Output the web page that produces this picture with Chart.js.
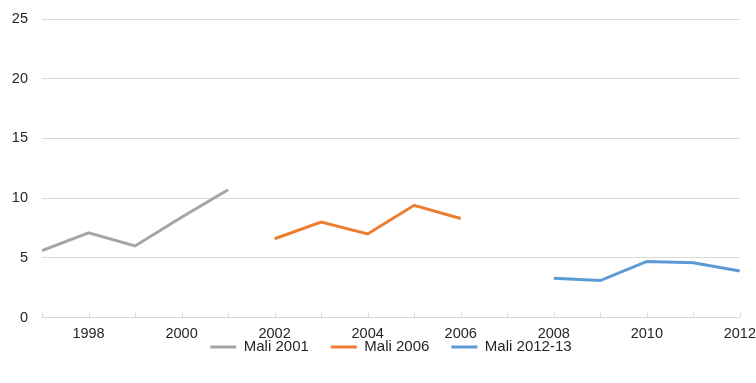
<!DOCTYPE html>
<html>
<head>
<meta charset="utf-8">
<script src="https://cdn.jsdelivr.net/npm/chart.js@4/dist/chart.umd.min.js"></script>
<style>
  html, body { margin: 0; padding: 0; background: #fff; }
  #wrap { width: 756px; height: 383px; }
</style>
</head>
<body>
<div id="wrap"><canvas id="chart"></canvas></div>
<script>
const years2001 = [1997, 1998, 1999, 2000, 2001];
const mali2001 = [5.6, 7.1, 6.0, 8.4, 10.7];
const years2006 = [2002, 2003, 2004, 2005, 2006];
const mali2006 = [6.6, 8.0, 7.0, 9.4, 8.3];
const years2013 = [2008, 2009, 2010, 2011, 2012];
const mali2013 = [3.3, 3.1, 4.7, 4.6, 3.9];
const xMin = 1997, xMax = 2012;
const yTicks = [0, 5, 10, 15, 20, 25];

const legendGap = 22;

function points(xs, ys) {
    return xs.map((x, i) => ({x: x, y: ys[i]}));
}

// small tick marks pointing up into the plot, one per year
const insideTicks = {
    id: 'insideTicks',
    afterDatasetsDraw(chart) {
        const ctx = chart.ctx;
        const xs = chart.scales.x;
        const bottom = chart.chartArea.bottom;
        ctx.save();
        ctx.strokeStyle = '#d9d9d9';
        ctx.lineWidth = 1;
        for (let yr = xMin; yr <= xMax; yr++) {
            const px = Math.round(xs.getPixelForValue(yr)) + 0.5;
            ctx.beginPath();
            ctx.moveTo(px, bottom);
            ctx.lineTo(px, bottom - 5);
            ctx.stroke();
        }
        ctx.restore();
    }
};

// legend padding is wide for item spacing; pull the legend up closer to the axis labels
const liftLegend = {
    id: 'liftLegend',
    afterLayout(chart) {
        const lg = chart.legend;
        const h = lg.height;
        lg.top = chart.chartArea.bottom;
        lg.bottom = lg.top + h;
    }
};

Chart.defaults.font.family = '"Liberation Sans", Arial, sans-serif';
Chart.defaults.color = '#262626';

new Chart('chart', {
    type: 'line',
    data: {
        datasets: [
            {label: 'Mali 2001', data: points(years2001, mali2001), borderColor: '#a5a5a5', backgroundColor: '#a5a5a5', borderWidth: 3},
            {label: 'Mali 2006', data: points(years2006, mali2006), borderColor: '#ed7d31', backgroundColor: '#ed7d31', borderWidth: 3},
            {label: 'Mali 2012-13', data: points(years2013, mali2013), borderColor: '#5b9bd5', backgroundColor: '#5b9bd5', borderWidth: 3}
        ]
    },
    options: {
        responsive: true,
        maintainAspectRatio: false,
        animation: false,
        elements: {
            line: {tension: 0, fill: false},
            point: {radius: 0, hoverRadius: 0}
        },
        layout: {padding: {top: 0, right: 0, bottom: 2, left: 0}},
        scales: {
            x: {
                type: 'linear',
                min: xMin,
                max: xMax,
                grid: {display: false},
                border: {display: true, color: '#d9d9d9'},
                ticks: {
                    stepSize: 1,
                    autoSkip: false,
                    maxRotation: 0,
                    padding: 0,
                    font: {size: 14.5},
                    callback: v => (v % 2 === 0 ? String(v) : '')
                }
            },
            y: {
                min: 0,
                max: 25,
                afterFit: s => { s.width = 42; },
                afterBuildTicks: s => { s.ticks = yTicks.map(v => ({value: v})); },
                grid: {color: '#d9d9d9', drawTicks: false},
                border: {display: false},
                ticks: {padding: 14, font: {size: 14.5, lineHeight: 0.69}}
            }
        },
        plugins: {
            legend: {
                position: 'bottom',
                fullSize: false,
                maxHeight: 38,
                labels: {
                    usePointStyle: true,
                    pointStyle: 'line',
                    pointStyleWidth: 26,
                    boxHeight: 3,
                    padding: legendGap,
                    font: {size: 15}
                }
            },
            tooltip: {enabled: false}
        }
    },
    plugins: [insideTicks, liftLegend]
});
</script>
</body>
</html>
